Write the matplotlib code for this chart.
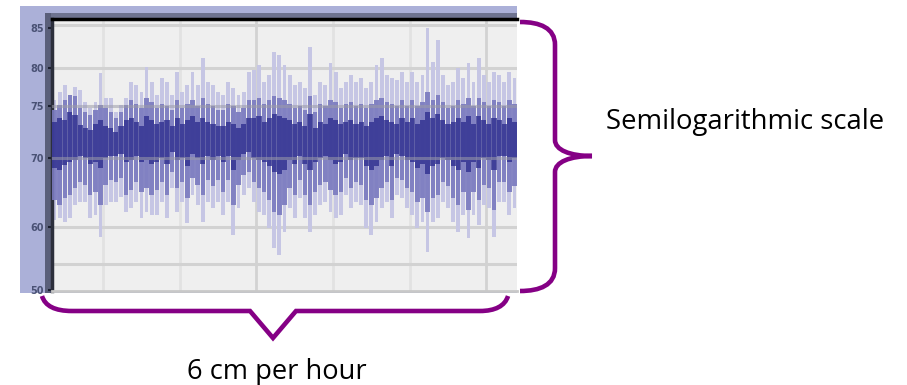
import matplotlib
matplotlib.use("Agg")
import matplotlib.pyplot as plt
from matplotlib.path import Path
import matplotlib.patches as patches
import numpy as np

# signal envelope per column, in screen rows of the original plot (top=19, bottom=291)
spike_top = [100, 92, 85, 95, 87, 90, 102, 108, 102, 73, 98, 98, 112, 105, 98, 82, 85, 92, 67, 82, 95, 78,
             82, 95, 72, 92, 85, 72, 85, 58, 82, 85, 92, 95, 82, 88, 95, 92, 72, 70, 65, 82, 75, 52, 55,
             65, 75, 85, 82, 88, 47, 95, 82, 85, 63, 72, 88, 82, 75, 82, 78, 88, 82, 65, 58, 75, 78, 80,
             72, 82, 72, 82, 75, 28, 62, 40, 75, 85, 82, 68, 78, 63, 82, 58, 75, 82, 72, 75, 82, 72, 78]
spike_bottom = [220, 218, 222, 218, 205, 202, 202, 218, 215, 237, 205, 202, 202, 197, 212, 208, 202, 218, 212, 215, 215, 202,
                218, 188, 212, 202, 223, 195, 205, 222, 202, 208, 202, 215, 202, 235, 208, 195, 188, 202, 212, 215, 228, 248, 255,
                232, 208, 218, 198, 218, 232, 215, 205, 202, 212, 218, 215, 195, 208, 202, 205, 228, 235, 222, 208, 202, 218, 195,
                198, 208, 215, 228, 222, 252, 222, 218, 202, 208, 222, 232, 215, 238, 215, 225, 205, 208, 237, 202, 202, 215, 208]
mid_top = [110, 105, 100, 95, 96, 108, 112, 115, 110, 105, 108, 112, 118, 112, 105, 100, 104, 108, 98, 102, 108, 104,
           106, 110, 100, 108, 104, 100, 106, 98, 104, 106, 110, 110, 104, 106, 112, 108, 100, 100, 98, 104, 100, 96, 98,
           100, 104, 108, 106, 110, 96, 112, 104, 106, 100, 102, 108, 104, 102, 106, 104, 108, 104, 100, 98, 102, 104, 106,
           100, 106, 100, 106, 102, 92, 100, 95, 102, 108, 106, 100, 104, 98, 106, 98, 102, 106, 100, 102, 106, 100, 104]
mid_bottom = [200, 205, 198, 195, 188, 182, 185, 195, 192, 205, 185, 180, 182, 178, 195, 190, 182, 192, 188, 195, 190, 182,
              195, 172, 188, 182, 198, 178, 185, 195, 180, 186, 180, 192, 180, 205, 185, 175, 172, 182, 188, 192, 200, 212, 215,
              205, 188, 195, 180, 195, 205, 192, 185, 182, 190, 195, 192, 178, 188, 182, 185, 200, 205, 198, 188, 182, 200, 178,
              180, 188, 192, 202, 198, 212, 198, 195, 182, 186, 198, 205, 192, 210, 192, 200, 185, 188, 210, 182, 182, 192, 186]
core_top = [122, 118, 120, 112, 115, 125, 128, 130, 124, 120, 126, 128, 132, 126, 120, 118, 122, 126, 116, 120, 124, 122,
            120, 126, 118, 124, 120, 116, 122, 118, 122, 124, 126, 126, 122, 124, 128, 124, 118, 118, 116, 122, 118, 114, 116,
            118, 120, 124, 122, 126, 114, 128, 122, 124, 118, 120, 124, 122, 120, 124, 122, 126, 122, 118, 116, 120, 122, 124,
            118, 122, 118, 124, 120, 112, 118, 114, 120, 124, 122, 118, 122, 116, 124, 116, 120, 124, 118, 120, 124, 118, 122]
core_bottom = [168, 170, 165, 162, 160, 156, 158, 164, 162, 168, 158, 156, 156, 154, 162, 160, 156, 162, 160, 164, 162, 158,
               164, 152, 160, 158, 166, 154, 158, 164, 156, 160, 156, 162, 156, 170, 160, 154, 152, 158, 160, 162, 166, 172, 174,
               170, 160, 164, 156, 164, 170, 162, 158, 156, 160, 164, 162, 154, 160, 158, 158, 166, 170, 166, 160, 156, 166, 154,
               156, 160, 162, 168, 164, 174, 166, 164, 158, 160, 166, 170, 162, 172, 162, 168, 158, 160, 170, 156, 156, 162, 158]

tick_rows = [28, 68, 106, 158, 227, 290]
tick_labels = ["85", "80", "75", "70", "60", "50"]
grid_rows = [25, 68, 106, 158, 227, 264]
grid_cols = [9, 24, 39, 54, 69, 84]

W, H = 907, 385
fig = plt.figure(figsize=(W / 100, H / 100), dpi=100)

# background panel (lavender frame of the screenshot)
bg = fig.add_axes([0, 0, 1, 1], zorder=0)
bg.set_xlim(0, W)
bg.set_ylim(H, 0)
bg.axis("off")
bg.add_patch(patches.Rectangle((20, 6), 497, 287, facecolor="#abb0d8", edgecolor="none"))
bg.add_patch(patches.Rectangle((45, 13), 472, 5, facecolor="#6e7390", edgecolor="none"))
bg.add_patch(patches.Rectangle((45, 13), 6, 280, facecolor="#5a5f7a", edgecolor="none"))

ax = fig.add_axes([52 / W, (H - 291) / H, 465 / W, 272 / H], zorder=1)
ax.set_facecolor("#efefef")
n = len(spike_top)
x = np.arange(n)
top = np.array(spike_top)
bot = np.array(spike_bottom)

for gx in grid_cols:
    ax.axvline(gx + 0.5, color="#d2d2d2" if gx in (39, 84) else "#e2e2e2", lw=2.0, zorder=0.5)
for gy in grid_rows:
    if gy not in (106, 158):
        ax.axhline(gy, color="#d2d2d2", lw=2.2, zorder=0.6)

ax.bar(x, bot - top, bottom=top, width=0.75, color="#c6c6e4", lw=0, zorder=2)
ax.bar(x, np.array(mid_bottom) - np.array(mid_top), bottom=mid_top, width=0.85,
       color="#7a7abf", alpha=0.9, lw=0, zorder=3)
ax.bar(x, np.array(core_bottom) - np.array(core_top), bottom=core_top, width=1.0,
       color="#26268a", alpha=0.72, lw=0, zorder=4)

# the two middle grid lines sit over the trace
for gy in (106, 158):
    ax.axhline(gy, color="#9c9ca8", lw=2.2, alpha=0.55, zorder=5)

ax.set_xlim(-0.5, n - 0.5)
ax.set_ylim(291, 19)
ax.set_xticks([])
ax.set_yticks(tick_rows)
ax.set_yticklabels(tick_labels, fontsize=7, color="#4a5275", fontweight="bold")
ax.tick_params(axis="y", length=3, width=1.5, color="#1c2030", pad=3)
ax.spines["right"].set_visible(False)
ax.spines["bottom"].set_color("#c8c8c8")
ax.spines["bottom"].set_linewidth(2)
ax.spines["left"].set_color("#2c2f3c")
ax.spines["left"].set_linewidth(2.5)
ax.spines["top"].set_color("black")
ax.spines["top"].set_linewidth(2.5)

# annotation overlay: braces and captions, in image pixels
ov = fig.add_axes([0, 0, 1, 1], zorder=3)
ov.set_xlim(0, W)
ov.set_ylim(H, 0)
ov.axis("off")
ov.patch.set_alpha(0)

C, L = Path.CURVE4, Path.LINETO
right_brace = Path(
    [(520, 22), (540, 22), (555, 28), (555, 45), (555, 140),
     (555, 150), (570, 156), (592, 156),
     (570, 156), (555, 162), (555, 172), (555, 268),
     (555, 285), (540, 291), (520, 291)],
    [Path.MOVETO, C, C, C, L, C, C, C, C, C, C, L, C, C, C])
bottom_brace = Path(
    [(42, 296), (45, 306), (55, 311), (72, 311), (250, 311),
     (273, 338), (296, 311), (480, 311),
     (495, 311), (505, 306), (508, 296)],
    [Path.MOVETO, C, C, C, L, L, L, L, C, C, C])
for p in (right_brace, bottom_brace):
    ov.add_patch(patches.PathPatch(p, facecolor="none", edgecolor="#850085",
                                   lw=3.3, capstyle="butt", joinstyle="miter"))

ov.text(606, 129, "Semilogarithmic scale", fontsize=19.8, family="Open Sans",
        ha="left", va="baseline", color="black")
ov.text(187, 379, "6 cm per hour", fontsize=19.6, family="Open Sans",
        ha="left", va="baseline", color="black")

fig.savefig("out.png", dpi=100)
